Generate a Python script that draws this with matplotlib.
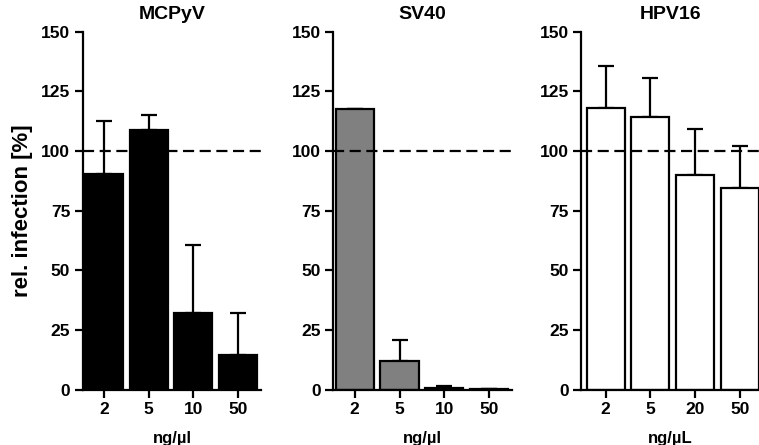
import matplotlib
matplotlib.use("Agg")
import matplotlib.pyplot as plt

plt.rcParams['font.family'] = ['Liberation Sans', 'DejaVu Sans']
plt.rcParams['font.weight'] = 'bold'

# data
titles = ['MCPyV', 'SV40', 'HPV16']
xlabels = ['ng/\u00b5l', 'ng/\u00b5l', 'ng/\u00b5L']
doses = [['2', '5', '10', '50'], ['2', '5', '10', '50'], ['2', '5', '20', '50']]
mcpyv_mean = [90.3, 108.6, 32.1, 14.7]
mcpyv_err = [22.4, 6.5, 28.6, 17.4]
sv40_mean = [117.6, 11.9, 0.9, 0.2]
sv40_err = [0.0, 9.1, 0.6, 0.0]
hpv16_mean = [118.1, 114.2, 89.8, 84.4]
hpv16_err = [17.4, 16.3, 19.4, 17.9]
colors = ['black', '#808080', 'white']

means = [mcpyv_mean, sv40_mean, hpv16_mean]
errs = [mcpyv_err, sv40_err, hpv16_err]

fig = plt.figure(figsize=(7.59, 4.45), dpi=100)
lefts = [0.109, 0.439, 0.766]
xlims = [(-0.48, 3.52), (-0.48, 3.5), (-0.54, 3.45)]

for i in range(3):
    ax = fig.add_axes([lefts[i], 0.124, 0.235, 0.805])
    x = range(len(means[i]))
    ax.bar(x, means[i], width=0.85, color=colors[i], edgecolor='black',
           linewidth=1.6, zorder=2)
    # only the upper half of the error bar is shown
    ax.errorbar(x, means[i], yerr=[[0] * 4, errs[i]], fmt='none',
                ecolor='black', elinewidth=1.6, capsize=6, capthick=1.6, zorder=1)
    ax.axhline(100, color='black', linestyle=(0, (5, 2.5)), linewidth=1.6, zorder=3)
    ax.set_xlim(xlims[i])
    ax.set_ylim(0, 150)
    ax.set_yticks([0, 25, 50, 75, 100, 125, 150])
    ax.set_xticks(list(x))
    ax.set_xticklabels(doses[i])
    ax.spines['top'].set_visible(False)
    ax.spines['right'].set_visible(False)
    ax.spines['left'].set_linewidth(1.6)
    ax.spines['bottom'].set_linewidth(1.6)
    ax.tick_params(width=1.6, length=6, labelsize=12.5, pad=3)
    ax.set_title(titles[i], fontsize=14, fontweight='bold', pad=9)
    ax.set_xlabel(xlabels[i], fontsize=12, fontweight='bold', labelpad=10)
    if i == 0:
        ax.set_ylabel('rel. infection [%]', fontsize=16, fontweight='bold', labelpad=6)

plt.savefig('out.png', dpi=100)
